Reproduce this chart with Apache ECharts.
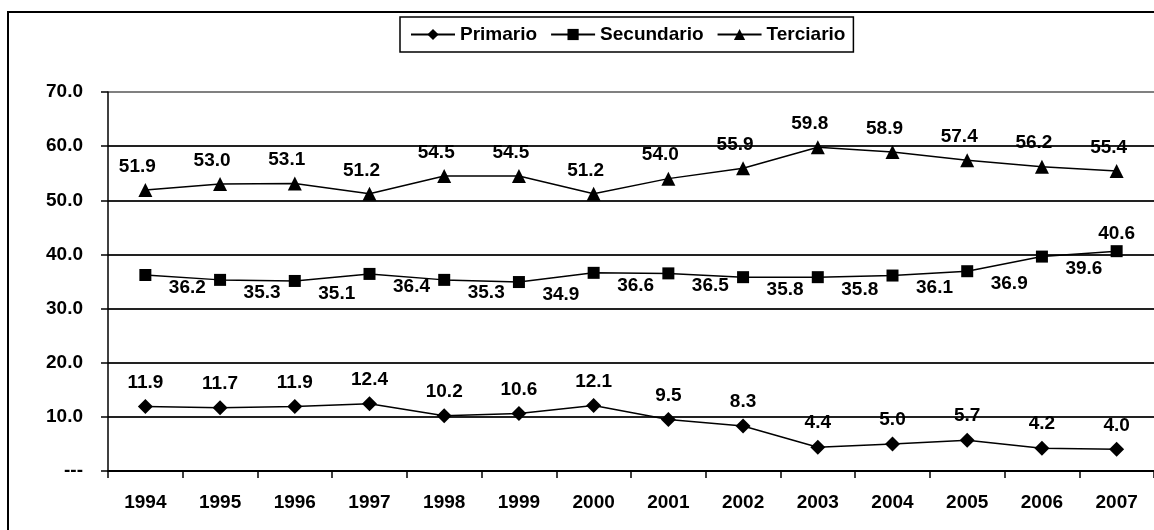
<!DOCTYPE html>
<html>
<head>
<meta charset="utf-8">
<script src="https://cdn.jsdelivr.net/npm/echarts@6/dist/echarts.min.js"></script>
<style>
  html, body { margin: 0; padding: 0; background: #fff; }
  #chart { width: 1154px; height: 530px; }
</style>
</head>
<body>
<div id="chart"></div>
<script>
// años
const years = ['1994', '1995', '1996', '1997', '1998', '1999', '2000',
  '2001', '2002', '2003', '2004', '2005', '2006', '2007']

// participación por sector (%)
const primario = [11.9, 11.7, 11.9, 12.4, 10.2, 10.6, 12.1, 9.5, 8.3, 4.4, 5.0, 5.7, 4.2, 4.0]
const secundario = [36.2, 35.3, 35.1, 36.4, 35.3, 34.9, 36.6, 36.5, 35.8, 35.8, 36.1, 36.9, 39.6, 40.6]
const terciario = [51.9, 53.0, 53.1, 51.2, 54.5, 54.5, 51.2, 54.0, 55.9, 59.8, 58.9, 57.4, 56.2, 55.4]

const seriesNames = ['Primario', 'Secundario', 'Terciario']

const font = '"Liberation Sans", Arial, sans-serif'
const chart = echarts.init(document.getElementById('chart'))

const labelStyle = {
  show: true,
  fontFamily: font,
  fontWeight: 'bold',
  fontSize: 19,
  color: '#000',
  formatter: p => p.value.toFixed(1)
}

function lineSeries(name, data, symbol, size, label) {
  return {
    name: name,
    type: 'line',
    data: data,
    symbol: symbol,
    symbolSize: size,
    itemStyle: { color: '#000' },
    lineStyle: { color: '#000', width: 1.5 },
    label: Object.assign({}, labelStyle, label),
    animation: false,
    z: 3
  }
}

// la última etiqueta del secundario va arriba
const secData = secundario.map((v, i) => i === secundario.length - 1
  ? { value: v, label: { position: 'top', offset: [0, -2] } }
  : v)

chart.setOption({
  backgroundColor: '#fff',
  textStyle: { fontFamily: font },
  graphic: [{
    type: 'rect',
    shape: { x: 8, y: 12, width: 1200, height: 600 },
    style: { fill: 'none', stroke: '#000', lineWidth: 2 },
    z: -1
  }],
  legend: {
    data: seriesNames,
    left: 400,
    top: 17,
    padding: [8, 8, 8, 10],
    itemGap: 13,
    itemWidth: 44,
    itemHeight: 14,
    borderColor: '#000',
    borderWidth: 1.5,
    textStyle: { fontFamily: font, fontWeight: 'bold', fontSize: 19, color: '#000' }
  },
  grid: {
    left: 108,
    top: 92,
    width: 1047,
    height: 379
  },
  xAxis: {
    type: 'category',
    data: years,
    boundaryGap: true,
    axisLine: { lineStyle: { color: '#000', width: 1.5 } },
    axisTick: { show: true, length: 7, lineStyle: { color: '#000', width: 1.5 } },
    axisLabel: {
      margin: 22,
      fontFamily: font,
      fontWeight: 'bold',
      fontSize: 19,
      color: '#000'
    }
  },
  yAxis: {
    type: 'value',
    min: 0,
    max: 70,
    interval: 10,
    axisLine: { show: true, lineStyle: { color: '#000', width: 1.5 } },
    axisTick: { show: true, length: 7, lineStyle: { color: '#000', width: 1.5 } },
    axisLabel: {
      margin: 25,
      fontFamily: font,
      fontWeight: 'bold',
      fontSize: 19,
      color: '#000',
      formatter: v => v === 0 ? '---' : v.toFixed(1)
    },
    splitLine: {
      show: true,
      lineStyle: {
        color: ['#000', '#222', '#222', '#222', '#222', '#222', '#222', '#808080'],
        width: 2
      }
    }
  },
  series: [
    lineSeries('Primario', primario, 'diamond', 15, { position: 'top', distance: 7 }),
    lineSeries('Secundario', secData, 'rect', 12, { position: 'bottom', distance: 0, offset: [42, -3] }),
    lineSeries('Terciario', terciario, 'triangle', 14, { position: 'top', distance: 7, offset: [-8, 0] })
  ]
})
</script>
</body>
</html>
